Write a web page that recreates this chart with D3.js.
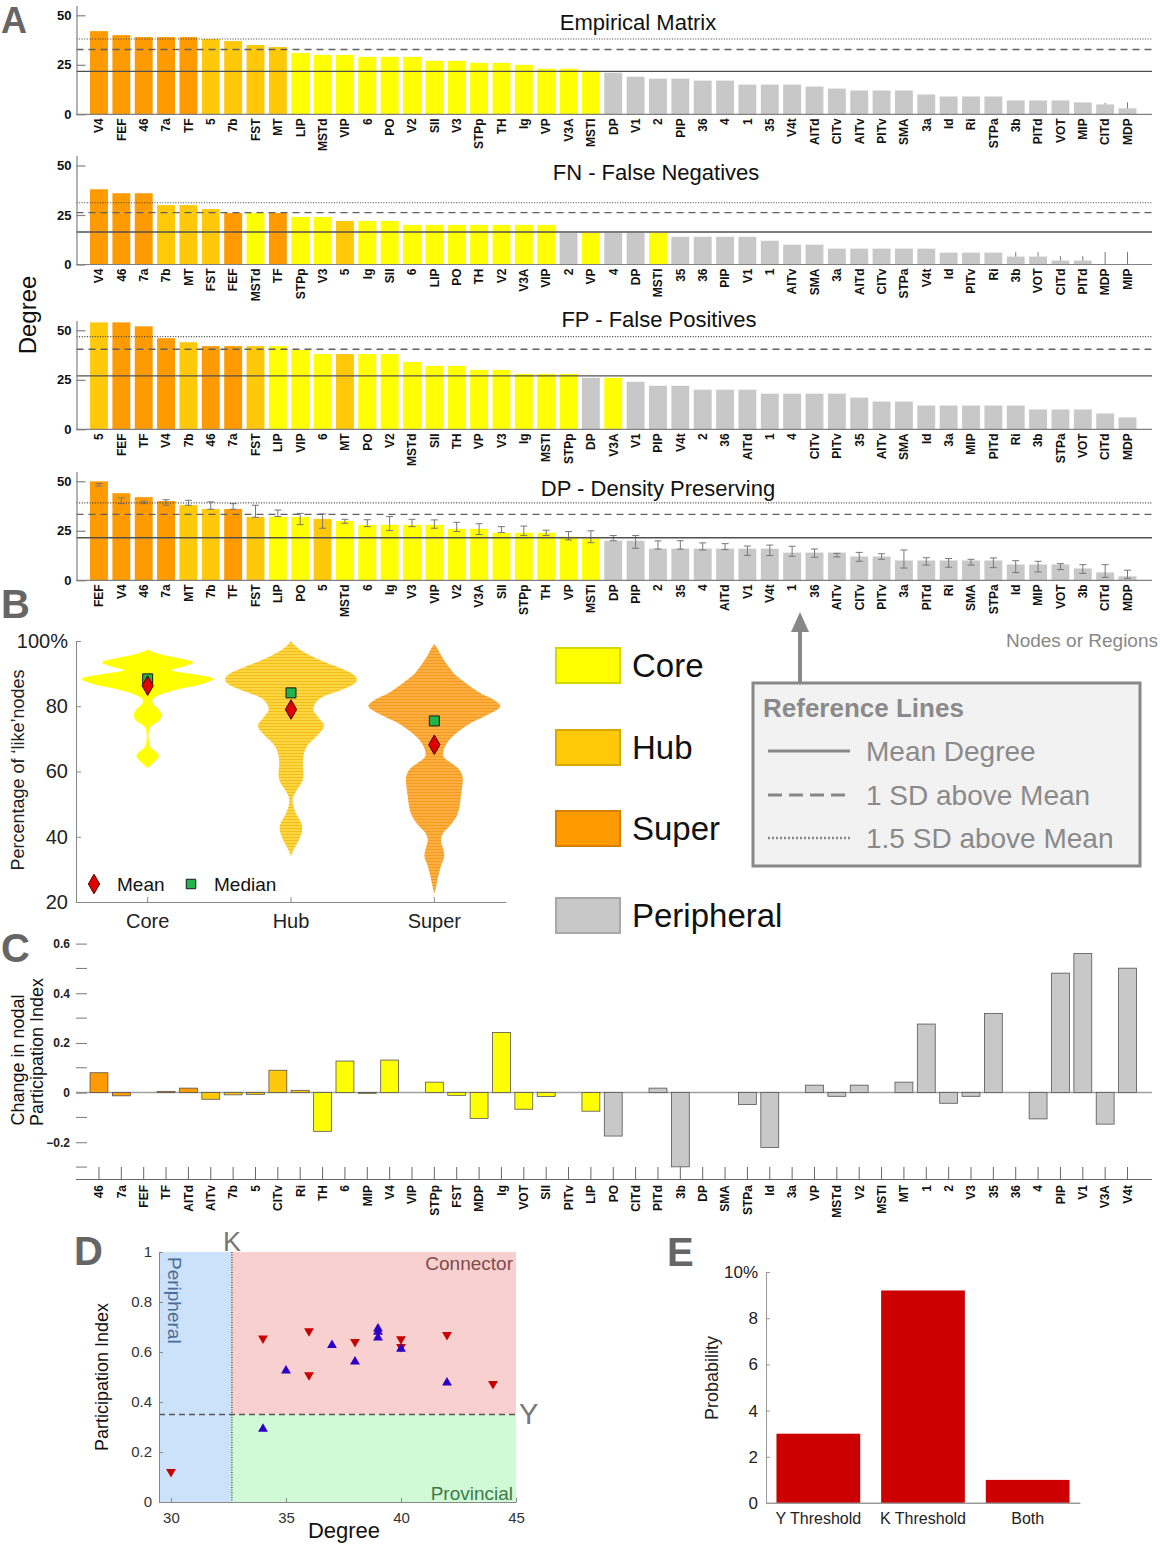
<!DOCTYPE html>
<html><head><meta charset="utf-8">
<script src="https://cdn.jsdelivr.net/npm/d3@7"></script>
<style>body{margin:0;background:#fff;} svg{display:block;font-family:"Liberation Sans",Arial,sans-serif;}</style>
</head><body>
<script>
// ---------------- DATA ----------------
const superNodes = ["V4","FEF","46","7a","TF"];
const hubNodes = ["5","7b","FST","MT"];
const coreNodes = ["LIP","MSTd","VIP","6","PO","V2","SII","V3","STPp","TH","Ig","VP","V3A","MSTI"];

const empNames = ["V4","FEF","46","7a","TF","5","7b","FST","MT","LIP","MSTd","VIP","6","PO","V2","SII","V3","STPp","TH","Ig","VP","V3A","MSTI","DP","V1","2","PIP","36","4","1","35","V4t","AITd","CITv","AITv","PITv","SMA","3a","Id","Ri","STPa","3b","PITd","VOT","MIP","CITd","MDP"];
const empValues = [42,40,39,39,39,38,37,35,34,31,30,30,29,29,29,27,27,26,26,25,23,23,22,21,19,18,18,17,17,15,15,15,14,13,12,12,12,10,9,9,9,7,7,7,6,5,3];
const empErrNames = ["CITd","MDP"];
const empErrLo = [5,3];
const empErrHi = [5.7,6];
const empRefs = [21.7,32.7,38.0];

const fnNames = ["V4","46","7a","7b","MT","FST","FEF","MSTd","TF","STPp","V3","5","Ig","SII","6","LIP","PO","TH","V2","V3A","VIP","2","VP","4","DP","MSTI","35","36","PIP","V1","1","AITv","SMA","3a","AITd","CITv","STPa","V4t","Id","PITv","Ri","3b","VOT","CITd","PITd","MDP","MIP"];
const fnValues = [38,36,36,30,30,28,26,26,26,24,24,22,22,22,20,20,20,20,20,20,20,16,16,16,16,16,14,14,14,14,12,10,10,8,8,8,8,8,6,6,6,4,4,2,2,0,0];
const fnErrNames = ["3b","VOT","CITd","PITd","MDP","MIP"];
const fnErrLo = [4,4,2,2,0,0];
const fnErrHi = [6.2,6.2,4.2,4.2,6.3,6.3];
const fnRefs = [16.4,26.2,31.2];

const fpNames = ["5","FEF","TF","V4","7b","46","7a","FST","LIP","VIP","6","MT","PO","V2","MSTd","SII","TH","VP","V3","Ig","MSTI","STPp","DP","V3A","V1","PIP","V4t","2","36","AITd","1","4","CITv","PITv","35","AITv","SMA","Id","3a","MIP","PITd","Ri","3b","STPa","VOT","CITd","MDP"];
const fpValues = [54,54,52,46,44,42,42,42,42,40,38,38,38,38,34,32,32,30,30,28,28,28,26,26,24,22,22,20,20,20,18,18,18,18,16,14,14,12,12,12,12,12,10,10,10,8,6];
const fpRefs = [27.0,40.4,46.8];

const dpNames = ["FEF","V4","46","7a","MT","7b","TF","FST","LIP","PO","5","MSTd","6","Ig","V3","VIP","V2","V3A","SII","STPp","TH","VP","MSTI","DP","PIP","2","35","4","AITd","V1","V4t","1","36","AITv","CITv","PITv","3a","PITd","Ri","SMA","STPa","Id","MIP","VOT","3b","CITd","MDP"];
const dpValues = [50,44,42,40,38,36,36,32,32,32,31,30,28,28,28,28,26,26,24,24,24,22,21,20,20,16,16,16,16,16,16,14,14,14,12,12,10,10,10,10,10,8,8,8,6,4,2];
const dpErrLo = [47.6,38.7,38.7,37.9,37.9,35.9,35.9,31.8,32.2,28.1,26.3,28.8,27.1,25.1,27.1,26.3,24.6,23.1,24.1,22.6,22.6,20.4,19.0,20.0,16.2,15.8,15.7,15.3,15.5,12.6,12.5,12.1,11.6,11.8,9.6,10.6,6.2,7.7,6.6,7.7,6.4,3.9,4.2,5.4,3.5,1.5,1.0];
const dpErrHi = [48.9,41.6,39.9,40.7,40.4,39.6,38.7,37.9,35.5,33.8,33.5,30.8,30.6,32.2,30.8,30.5,29.3,28.6,27.1,27.4,25.3,24.6,25.0,22.6,22.6,19.9,20.0,18.9,18.5,17.3,17.8,17.2,15.8,13.6,14.1,13.4,15.3,11.4,11.0,10.6,11.3,9.9,9.6,8.4,7.9,7.9,5.1];
const dpRefs = [21.5,33.3,39.1];

// Panel B: violin density profiles [value %, relative density]
const violinCats = ["Core","Hub","Super"];
const coreProfile = [[61,0],[62.5,0.08],[64,0.15],[64.8,0.17],[66,0.13],[67.5,0.04],[69,0.02],[72.5,0.02],[74,0.06],[75.5,0.17],[77.2,0.21],[79,0.17],[80.5,0.09],[81.8,0.07],[83,0.13],[85,0.42],[87,0.85],[88.4,1.0],[89.8,0.7],[91,0.36],[92.2,0.55],[93.4,0.69],[94.6,0.5],[95.6,0.25],[96.6,0.08],[97.4,0]];
const hubProfile = [[34,0],[36,0.04],[39,0.12],[42,0.17],[44,0.16],[47,0.08],[50,0.03],[52,0.03],[54,0.08],[57,0.17],[59,0.19],[62,0.18],[65,0.19],[68,0.25],[71,0.4],[74,0.5],[76.5,0.42],[78.7,0.34],[80.5,0.36],[82.5,0.45],[84.5,0.7],[86.5,0.93],[88,1.0],[89.5,0.96],[91.5,0.77],[93.5,0.52],[95.5,0.3],[97.5,0.13],[99,0.04],[100,0]];
const superProfile = [[22.5,0],[25,0.03],[28,0.06],[31,0.1],[34,0.15],[36.5,0.13],[39,0.1],[41,0.13],[43,0.22],[46,0.33],[49,0.38],[52,0.4],[55,0.42],[58,0.43],[60.5,0.38],[62.5,0.26],[64.5,0.14],[66.5,0.14],[69,0.2],[72,0.35],[74.5,0.52],[77,0.77],[80,1.0],[82,0.9],[84,0.7],[86,0.55],[88,0.42],[90,0.3],[92,0.22],[94,0.15],[96,0.09],[98,0.04],[99,0]];
const violinMeans = [86.3,79.0,68.2];
const violinMedians = [88.4,84.1,75.5];

// Panel C
const cNames = ["46","7a","FEF","TF","AITd","AITv","7b","5","CITv","Ri","TH","6","MIP","V4","VIP","STPp","FST","MDP","Ig","VOT","SII","PITv","LIP","PO","CITd","PITd","3b","DP","SMA","STPa","Id","3a","VP","MSTd","V2","MSTI","MT","1","2","V3","35","36","4","PIP","V1","V3A","V4t"];
const cValues = [0.08,-0.013,0,0.005,0.018,-0.027,-0.009,-0.007,0.09,0.009,-0.156,0.127,-0.003,0.131,0,0.042,-0.011,-0.104,0.242,-0.067,-0.016,0,-0.075,-0.175,0,0.018,-0.299,0,0,-0.048,-0.221,0,0.03,-0.015,0.03,0,0.042,0.276,-0.043,-0.015,0.319,0,-0.106,0.481,0.56,-0.127,0.501];
const cClasses = ["S","S","S","S","S","H","H","H","H","H","C","C","C","C","C","C","C","C","C","C","C","C","C","P","P","P","P","P","P","P","P","P","P","P","P","P","P","P","P","P","P","P","P","P","P","P","P"];
const cMajorTicks = [0.6,0.4,0.2,0,-0.2];
const cMinorTicks = [0.5,0.3,0.1,-0.1,-0.3];

// Panel D
const dRedDegree = [30,34,36,36,38,40,40,42,44];
const dRedPI = [0.121,0.655,0.684,0.508,0.641,0.652,0.621,0.669,0.473];
const dBlueDegree = [34,35,37,38,39,39,39,40,42];
const dBluePI = [0.292,0.525,0.627,0.561,0.693,0.680,0.657,0.612,0.477];
const kThreshold = 32.65;
const yThreshold = 0.35;
const dXTicks = [30,35,40,45];
const dYTicks = [0,0.2,0.4,0.6,0.8,1];

// Panel E
const eCats = ["Y Threshold","K Threshold","Both"];
const eValues = [3.0,9.2,1.0];
const eTicks = [0,2,4,6,8,10];

// Legends
const classLegend = ["Core","Hub","Super","Peripheral"];
const refLegend = ["Mean Degree","1 SD above Mean","1.5 SD above Mean"];

// ---------------- STYLE ----------------
const COL = {S:"#FF9A00", H:"#FFC90A", C:"#FFFF00", P:"#C8C8C8"};
function nodeClass(n){ return superNodes.includes(n)?"S":hubNodes.includes(n)?"H":coreNodes.includes(n)?"C":"P"; }
const refDash = ["none","7,5","1,1.6"];
const refStroke = ["#505050","#606060","#404040"];

const svg = d3.select("body").append("svg").attr("width",1160).attr("height",1545);
const defs = svg.append("defs");
function stripes(id, bg, line){
  const p = defs.append("pattern").attr("id",id).attr("patternUnits","userSpaceOnUse").attr("width",8).attr("height",3);
  p.append("rect").attr("width",8).attr("height",3).attr("fill",bg);
  p.append("rect").attr("width",8).attr("height",1).attr("fill",line);
}
stripes("hubPat","#FFD640","#F2BE1E");
stripes("superPat","#FFAE40","#F39A22");

function panelLetter(t,x,y,fs){
  svg.append("text").attr("x",x).attr("y",y).text(t).attr("font-size",fs||40).attr("font-weight","bold").attr("fill","#666");
}

// ---------------- PANEL A ----------------
const AX0 = 76.5, AX1 = 1152;
function degreePanel(o){
  const g = svg.append("g");
  const x = d3.scaleBand().domain(o.names).range([87.8,1138.7]).paddingInner(0.2).paddingOuter(0.1);
  const y = d3.scaleLinear().domain([0,55]).range([o.y0, o.y0 - 55*99/50]);
  g.selectAll("rect.bar").data(o.names).join("rect").attr("class","bar")
    .attr("x",d=>x(d)).attr("width",x.bandwidth())
    .attr("y",(d,i)=>y(o.values[i])).attr("height",(d,i)=>y(0)-y(o.values[i]))
    .attr("fill",d=>COL[nodeClass(d)]);
  if(o.errNames){
    o.errNames.forEach((n,i)=>{
      const cx = x(n)+x.bandwidth()/2;
      g.append("line").attr("x1",cx).attr("x2",cx).attr("y1",y(o.errLo[i])).attr("y2",y(o.errHi[i]))
        .attr("stroke","#777").attr("stroke-width",1);
      if(o.cap){
        [o.errLo[i],o.errHi[i]].forEach(v=>g.append("line").attr("x1",cx-o.cap).attr("x2",cx+o.cap)
          .attr("y1",y(v)).attr("y2",y(v)).attr("stroke","#777").attr("stroke-width",1));
      }
    });
  }
  o.refs.forEach((v,i)=>{
    g.append("line").attr("x1",AX0).attr("x2",AX1).attr("y1",y(v)).attr("y2",y(v))
      .attr("stroke",refStroke[i]).attr("stroke-width",i==2?1.1:1.4).attr("stroke-dasharray",refDash[i]);
  });
  const ya = g.append("g").attr("transform",`translate(${AX0},0)`)
    .call(d3.axisLeft(y).tickValues([0,25,50]).tickSize(-9).tickSizeOuter(0).tickPadding(5));
  ya.select(".domain").attr("stroke","#808080").attr("stroke-width",1.2);
  ya.selectAll(".tick line").attr("stroke","#808080").attr("stroke-width",1.2);
  ya.selectAll(".tick text").attr("font-size",13).attr("font-weight","bold").attr("fill","#111").attr("font-family","Liberation Sans, Arial");
  g.append("line").attr("x1",AX0).attr("x2",AX1).attr("y1",y(0)).attr("y2",y(0)).attr("stroke","#808080").attr("stroke-width",1.2);
  g.selectAll("text.xl").data(o.names).join("text").attr("class","xl")
    .attr("transform",d=>`translate(${x(d)+x.bandwidth()/2},${y(0)+4}) rotate(-90)`)
    .attr("text-anchor","end").attr("dy","0.36em").attr("font-size",12).attr("font-weight","bold").attr("fill","#111")
    .text(d=>d);
  g.append("text").attr("x",o.tx).attr("y",o.ty).attr("text-anchor","middle").attr("font-size",22).attr("fill","#111").text(o.title);
}
degreePanel({names:empNames,values:empValues,errNames:empErrNames,errLo:empErrLo,errHi:empErrHi,refs:empRefs,y0:114.3,title:"Empirical Matrix",tx:638,ty:30});
degreePanel({names:fnNames,values:fnValues,errNames:fnErrNames,errLo:fnErrLo,errHi:fnErrHi,refs:fnRefs,y0:264.5,title:"FN - False Negatives",tx:656,ty:180});
degreePanel({names:fpNames,values:fpValues,refs:fpRefs,y0:429.3,title:"FP - False Positives",tx:659,ty:327});
degreePanel({names:dpNames,values:dpValues,errNames:dpNames,errLo:dpErrLo,errHi:dpErrHi,cap:3.5,refs:dpRefs,y0:580.3,title:"DP - Density Preserving",tx:658,ty:496});
panelLetter("A",1,33,36);
svg.append("text").attr("transform","translate(36,315) rotate(-90)").attr("text-anchor","middle").attr("font-size",24).attr("fill","#111").text("Degree");

// ---------------- PANEL B ----------------
panelLetter("B",1,618);
const xB = d3.scaleBand().domain(violinCats).range([76,506]);
const yB = d3.scaleLinear().domain([20,100]).range([902,641]);
const wB = d3.scaleLinear().domain([0,1]).range([0,66]);
const profiles = [coreProfile,hubProfile,superProfile];
const vFill = ["#FFFF00","url(#hubPat)","url(#superPat)"];
violinCats.forEach((c,i)=>{
  const cx = xB(c)+xB.bandwidth()/2;
  const area = d3.area().curve(d3.curveCatmullRom.alpha(0.5))
    .y(d=>yB(d[0])).x0(d=>cx-wB(d[1])).x1(d=>cx+wB(d[1]));
  svg.append("path").datum(profiles[i]).attr("d",area).attr("fill",vFill[i]);
});
const yBa = svg.append("g").attr("transform","translate(76,0)")
  .call(d3.axisLeft(yB).tickValues([20,40,60,80,100]).tickFormat(d=>d===100?"100%":d).tickSize(-5).tickSizeOuter(0).tickPadding(8));
yBa.select(".domain").attr("stroke","#888");
yBa.selectAll(".tick line").attr("stroke","#888");
yBa.selectAll(".tick text").attr("font-size",20).attr("fill","#222").attr("font-family","Liberation Sans, Arial");
const xBa = svg.append("g").attr("transform","translate(0,902)")
  .call(d3.axisBottom(xB).tickSize(-5).tickSizeOuter(0).tickPadding(12));
xBa.select(".domain").attr("stroke","#888");
xBa.selectAll(".tick line").attr("stroke","#888");
xBa.selectAll(".tick text").attr("font-size",20).attr("fill","#222").attr("font-family","Liberation Sans, Arial");
violinCats.forEach((c,i)=>{
  const cx = xB(c)+xB.bandwidth()/2;
  svg.append("path").attr("d",d3.symbol(d3.symbolSquare,100)()).attr("transform",`translate(${cx},${yB(violinMedians[i])})`)
    .attr("fill","#22B34A").attr("stroke","#1a1a1a").attr("stroke-width",1);
  svg.append("path").attr("d",d3.symbol(d3.symbolDiamond,110)()).attr("transform",`translate(${cx},${yB(violinMeans[i])})`)
    .attr("fill","#E00000").attr("stroke","#400").attr("stroke-width",1);
});
svg.append("path").attr("d",d3.symbol(d3.symbolDiamond,110)()).attr("transform","translate(94,884)").attr("fill","#E00000").attr("stroke","#400");
svg.append("text").attr("x",117).attr("y",891).attr("font-size",19).attr("fill","#111").text("Mean");
svg.append("path").attr("d",d3.symbol(d3.symbolSquare,90)()).attr("transform","translate(191,884)").attr("fill","#22B34A").attr("stroke","#1a1a1a");
svg.append("text").attr("x",214).attr("y",891).attr("font-size",19).attr("fill","#111").text("Median");
svg.append("text").attr("transform","translate(24,770) rotate(-90)").attr("text-anchor","middle").attr("font-size",18).attr("fill","#222")
  .text("Percentage of \u2018like\u2019nodes");

const legY = [648,730,811,898];
const legCol = [COL.C,COL.H,COL.S,COL.P];
const legEdge = ["#D6D600","#D9A800","#D97F00","#A8A8A8"];
classLegend.forEach((t,i)=>{
  svg.append("rect").attr("x",556).attr("y",legY[i]).attr("width",64).attr("height",35)
    .attr("fill",legCol[i]).attr("stroke",legEdge[i]).attr("stroke-width",2);
  svg.append("text").attr("x",632).attr("y",legY[i]+29).attr("font-size",33).attr("fill","#111").text(t);
});
svg.append("text").attr("x",1158).attr("y",647).attr("text-anchor","end").attr("font-size",19).attr("fill","#888").text("Nodes or Regions");
svg.append("line").attr("x1",800).attr("x2",800).attr("y1",682).attr("y2",628).attr("stroke","#888").attr("stroke-width",4);
svg.append("path").attr("d","M800,612 L791,632 L809,632 Z").attr("fill","#888");
svg.append("rect").attr("x",753).attr("y",683).attr("width",387).attr("height",183).attr("fill","#F2F2F2").attr("stroke","#888").attr("stroke-width",3);
svg.append("text").attr("x",763).attr("y",717).attr("font-size",26).attr("font-weight","bold").attr("fill","#8A8A8A").text("Reference Lines");
const refLegY = [751,795,838];
const refLegDash = ["none","14,7","2,2"];
refLegend.forEach((t,i)=>{
  svg.append("line").attr("x1",768).attr("x2",850).attr("y1",refLegY[i]).attr("y2",refLegY[i])
    .attr("stroke","#888").attr("stroke-width",i==2?2.5:3).attr("stroke-dasharray",refLegDash[i]);
  svg.append("text").attr("x",866).attr("y",refLegY[i]+10).attr("font-size",28).attr("fill","#8A8A8A").text(t);
});

// ---------------- PANEL C ----------------
panelLetter("C",1,962);
const xC = d3.scaleBand().domain(cNames).range([87.8,1138.7]).paddingInner(0.2).paddingOuter(0.1);
const yC = d3.scaleLinear().domain([-0.35,0.6]).range([1179.5,943.6]);
svg.append("line").attr("x1",76).attr("x2",1152).attr("y1",yC(0)).attr("y2",yC(0)).attr("stroke","#A0A0A0").attr("stroke-width",1.5);
svg.selectAll("rect.cbar").data(cNames.filter((d,i)=>cValues[i]!==0)).join("rect").attr("class","cbar")
  .attr("x",d=>xC(d)).attr("width",xC.bandwidth())
  .attr("y",d=>yC(Math.max(0,cValues[cNames.indexOf(d)])))
  .attr("height",d=>Math.abs(yC(cValues[cNames.indexOf(d)])-yC(0)))
  .attr("fill",d=>COL[cClasses[cNames.indexOf(d)]]).attr("stroke","#555").attr("stroke-width",0.8);
const yCa = svg.append("g").attr("transform","translate(76,0)")
  .call(d3.axisLeft(yC).tickValues(cMajorTicks).tickFormat(d=>d===0?"0":d3.format(".1f")(d)).tickSize(-11).tickSizeOuter(0).tickPadding(6));
yCa.select(".domain").remove();
yCa.selectAll(".tick line").attr("stroke","#777");
yCa.selectAll(".tick text").attr("font-size",12).attr("font-weight","bold").attr("fill","#222").attr("font-family","Liberation Sans, Arial");
svg.selectAll("line.cminor").data(cMinorTicks).join("line").attr("class","cminor")
  .attr("x1",76).attr("x2",87).attr("y1",d=>yC(d)).attr("y2",d=>yC(d)).attr("stroke","#777");
svg.append("line").attr("x1",76).attr("x2",1152).attr("y1",1179.5).attr("y2",1179.5).attr("stroke","#666").attr("stroke-width",1.2);
svg.selectAll("line.ctick").data(cNames).join("line").attr("class","ctick")
  .attr("x1",d=>xC(d)+xC.bandwidth()/2).attr("x2",d=>xC(d)+xC.bandwidth()/2)
  .attr("y1",1167).attr("y2",1179.5).attr("stroke","#666");
svg.selectAll("text.cxl").data(cNames).join("text").attr("class","cxl")
  .attr("transform",d=>`translate(${xC(d)+xC.bandwidth()/2},1185) rotate(-90)`)
  .attr("text-anchor","end").attr("dy","0.36em").attr("font-size",12).attr("font-weight","bold").attr("fill","#111").text(d=>d);
svg.append("text").attr("transform","translate(18,1060) rotate(-90)").attr("text-anchor","middle").attr("dy","0.35em").attr("font-size",18).attr("fill","#111").text("Change in nodal");
svg.append("text").attr("transform","translate(37,1052) rotate(-90)").attr("text-anchor","middle").attr("dy","0.35em").attr("font-size",18).attr("fill","#111").text("Participation Index");

// ---------------- PANEL D ----------------
panelLetter("D",74,1265);
const xD = d3.scaleLinear().domain([29.48,45]).range([159,516]);
const yD = d3.scaleLinear().domain([0,1]).range([1502,1252]);
svg.append("rect").attr("x",xD(29.48)).attr("y",yD(1)).attr("width",xD(kThreshold)-xD(29.48)).attr("height",yD(0)-yD(1)).attr("fill","#CCE2FA");
svg.append("rect").attr("x",xD(kThreshold)).attr("y",yD(1)).attr("width",xD(45)-xD(kThreshold)).attr("height",yD(yThreshold)-yD(1)).attr("fill","#F9D0D0");
svg.append("rect").attr("x",xD(kThreshold)).attr("y",yD(yThreshold)).attr("width",xD(45)-xD(kThreshold)).attr("height",yD(0)-yD(yThreshold)).attr("fill","#D0F9D6");
svg.append("line").attr("x1",xD(kThreshold)).attr("x2",xD(kThreshold)).attr("y1",yD(1)).attr("y2",yD(0)).attr("stroke","#333").attr("stroke-width",1.2).attr("stroke-dasharray","1,1.5");
svg.append("line").attr("x1",xD(29.48)).attr("x2",xD(45)).attr("y1",yD(yThreshold)).attr("y2",yD(yThreshold)).attr("stroke","#555").attr("stroke-width",1.4).attr("stroke-dasharray","6,4");
const xDa = svg.append("g").attr("transform","translate(0,1502)").call(d3.axisBottom(xD).tickValues(dXTicks).tickSize(-4).tickSizeOuter(0).tickPadding(10));
xDa.select(".domain").attr("stroke","#888");
xDa.selectAll(".tick line").attr("stroke","#888");
xDa.selectAll(".tick text").attr("font-size",15).attr("fill","#333").attr("font-family","Liberation Sans, Arial");
const yDa = svg.append("g").attr("transform","translate(159,0)").call(d3.axisLeft(yD).tickValues(dYTicks).tickFormat(d=>d===0||d===1?d:d3.format(".1f")(d)).tickSize(-4).tickSizeOuter(0).tickPadding(7));
yDa.select(".domain").attr("stroke","#888");
yDa.selectAll(".tick line").attr("stroke","#888");
yDa.selectAll(".tick text").attr("font-size",15).attr("fill","#333").attr("font-family","Liberation Sans, Arial");
dRedDegree.forEach((d,i)=>svg.append("path").attr("d",d3.symbol(d3.symbolTriangle,42)())
  .attr("transform",`translate(${xD(d)},${yD(dRedPI[i])}) rotate(180)`).attr("fill","#C80000"));
dBlueDegree.forEach((d,i)=>svg.append("path").attr("d",d3.symbol(d3.symbolTriangle,42)())
  .attr("transform",`translate(${xD(d)},${yD(dBluePI[i])})`).attr("fill","#2A00C8"));
svg.append("text").attr("x",513).attr("y",1270).attr("text-anchor","end").attr("font-size",19).attr("fill","#7E4A4A").text("Connector");
svg.append("text").attr("x",513).attr("y",1500).attr("text-anchor","end").attr("font-size",19).attr("fill","#3E7A48").text("Provincial");
svg.append("text").attr("transform","translate(168,1257) rotate(90)").attr("font-size",19).attr("fill","#4A6A98").text("Peripheral");
svg.append("text").attr("x",232).attr("y",1251).attr("text-anchor","middle").attr("font-size",27).attr("fill","#777").text("K");
svg.append("text").attr("x",519).attr("y",1424).attr("font-size",29).attr("fill","#777").text("Y");
svg.append("text").attr("transform","translate(108,1377) rotate(-90)").attr("text-anchor","middle").attr("font-size",18).attr("fill","#111").text("Participation Index");
svg.append("text").attr("x",344).attr("y",1538).attr("text-anchor","middle").attr("font-size",22).attr("fill","#111").text("Degree");

// ---------------- PANEL E ----------------
panelLetter("E",667,1266);
const xE = d3.scaleBand().domain(eCats).range([766,1080]).paddingInner(0.2).paddingOuter(0.1);
const yE = d3.scaleLinear().domain([0,10]).range([1503,1272]);
svg.selectAll("rect.ebar").data(eCats).join("rect").attr("class","ebar")
  .attr("x",d=>xE(d)).attr("width",xE.bandwidth())
  .attr("y",(d,i)=>yE(eValues[i])).attr("height",(d,i)=>yE(0)-yE(eValues[i])).attr("fill","#CC0000");
const yEa = svg.append("g").attr("transform","translate(766,0)").call(d3.axisLeft(yE).tickValues(eTicks).tickFormat(d=>d===10?"10%":d).tickSize(-4).tickSizeOuter(0).tickPadding(8));
yEa.select(".domain").attr("stroke","#999");
yEa.selectAll(".tick line").attr("stroke","#999");
yEa.selectAll(".tick text").attr("font-size",17).attr("fill","#222").attr("font-family","Liberation Sans, Arial");
const xEa = svg.append("g").attr("transform","translate(0,1503)").call(d3.axisBottom(xE).tickSize(0).tickSizeOuter(0).tickPadding(10));
xEa.select(".domain").attr("stroke","#999");
xEa.selectAll(".tick text").attr("font-size",16).attr("fill","#222").attr("font-family","Liberation Sans, Arial");
svg.append("line").attr("x1",766).attr("x2",1080).attr("y1",1503).attr("y2",1503).attr("stroke","#999");
svg.append("text").attr("transform","translate(718,1378) rotate(-90)").attr("text-anchor","middle").attr("font-size",18).attr("fill","#222").text("Probability");
</script>
</body></html>
